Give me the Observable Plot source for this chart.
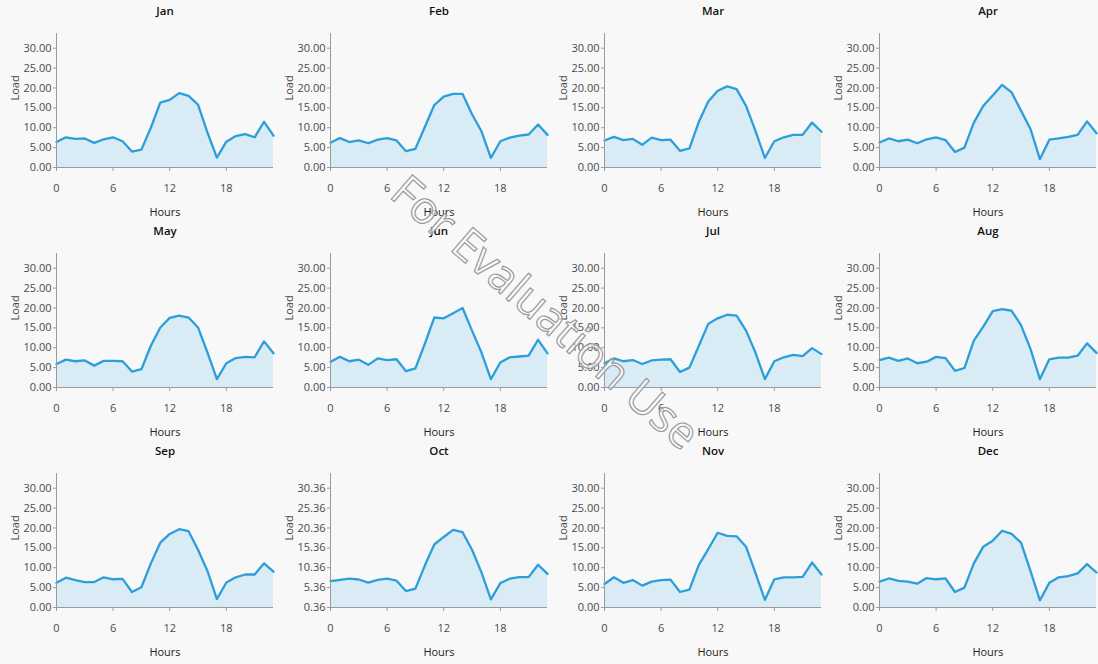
<!DOCTYPE html>
<html>
<head>
<meta charset="utf-8">
<script src="https://cdn.jsdelivr.net/npm/d3@7"></script>
<script src="https://cdn.jsdelivr.net/npm/@observablehq/plot@0.6"></script>
<style>
  html, body { margin: 0; padding: 0; background: #f8f8f8; }
  #wrap { position: relative; width: 1098px; height: 664px; overflow: hidden; font-family: "Open Sans", "Noto Sans", sans-serif; }
  .panel { position: absolute; width: 274px; height: 220px; }
  #wm { position: absolute; left: 0; top: 0; pointer-events: none; }
</style>
</head>
<body>
<div id="wrap"></div>
<script>
// ---- data ----
const months = ["Jan","Feb","Mar","Apr","May","Jun","Jul","Aug","Sep","Oct","Nov","Dec"];
const hours = [0,1,2,3,4,5,6,7,8,9,10,11,12,13,14,15,16,17,18,19,20,21,22,23];
const xTicks = [0, 6, 12, 18];
const yTicks = [0, 5, 10, 15, 20, 25, 30];
const yTicksOct = [0.36, 5.36, 10.36, 15.36, 20.36, 25.36, 30.36];

const jan = [6.4, 7.6, 7.2, 7.3, 6.2, 7.1, 7.6, 6.6, 4.0, 4.5, 10.0, 16.3, 17.0, 18.7, 18.0, 15.8, 8.8, 2.5, 6.5, 7.9, 8.4, 7.6, 11.5, 8.0];
const feb = [6.2, 7.4, 6.4, 6.8, 6.1, 7.0, 7.4, 6.8, 4.1, 4.7, 10.2, 15.7, 17.8, 18.5, 18.5, 13.4, 9.1, 2.4, 6.6, 7.5, 8.0, 8.3, 10.8, 8.2];
const mar = [6.8, 7.7, 6.9, 7.2, 5.7, 7.5, 6.9, 7.0, 4.2, 4.8, 11.5, 16.6, 19.3, 20.4, 19.7, 15.5, 9.2, 2.4, 6.6, 7.6, 8.2, 8.2, 11.3, 9.0];
const apr = [6.3, 7.3, 6.6, 7.0, 6.1, 7.1, 7.6, 6.9, 3.9, 5.0, 11.3, 15.5, 18.1, 20.8, 18.9, 14.3, 9.7, 2.1, 7.0, 7.3, 7.7, 8.2, 11.6, 8.6];
const may = [5.9, 7.0, 6.6, 6.8, 5.5, 6.7, 6.7, 6.6, 4.0, 4.6, 10.5, 15.1, 17.5, 18.1, 17.6, 15.1, 8.8, 2.1, 6.1, 7.4, 7.7, 7.6, 11.6, 8.6];
const jun = [6.5, 7.7, 6.6, 7.0, 5.7, 7.3, 6.9, 7.1, 4.1, 4.8, 11.0, 17.6, 17.4, 18.7, 20.0, 14.3, 8.8, 2.1, 6.3, 7.6, 7.8, 8.0, 12.0, 8.6];
const jul = [6.1, 7.3, 6.6, 6.9, 5.9, 6.8, 7.0, 7.1, 3.9, 5.0, 10.5, 16.0, 17.4, 18.3, 18.1, 14.3, 8.8, 2.1, 6.6, 7.6, 8.2, 7.9, 9.9, 8.4];
const aug = [6.9, 7.5, 6.7, 7.3, 6.1, 6.5, 7.7, 7.4, 4.2, 4.9, 11.8, 15.3, 19.2, 19.7, 19.3, 15.7, 9.7, 2.1, 7.1, 7.5, 7.5, 8.0, 11.1, 8.7];
const sep = [6.2, 7.5, 6.9, 6.4, 6.4, 7.6, 7.1, 7.2, 3.9, 5.1, 11.1, 16.3, 18.5, 19.7, 19.2, 14.5, 9.2, 2.1, 6.3, 7.6, 8.3, 8.3, 11.1, 9.0];
const oct = [7.0, 7.3, 7.6, 7.4, 6.6, 7.3, 7.6, 7.1, 4.5, 5.1, 10.9, 16.2, 18.1, 19.9, 19.3, 14.9, 9.2, 2.4, 6.5, 7.6, 8.0, 8.0, 11.1, 8.8];
const nov = [5.9, 7.6, 6.2, 6.9, 5.5, 6.5, 6.9, 7.0, 3.9, 4.5, 10.7, 14.7, 18.8, 18.0, 17.9, 15.3, 8.7, 1.9, 7.1, 7.6, 7.6, 7.7, 11.3, 8.3];
const dec = [6.5, 7.3, 6.7, 6.5, 6.0, 7.4, 7.1, 7.3, 3.9, 5.0, 11.1, 15.3, 16.8, 19.3, 18.5, 16.3, 9.2, 1.8, 6.2, 7.6, 7.9, 8.6, 10.9, 8.8];

const series = [jan, feb, mar, apr, may, jun, jul, aug, sep, oct, nov, dec];

// ---- drawing ----
const wrap = document.getElementById("wrap");
const lineColor = "#2c9fda";
const fillColor = "#d9ebf5";
const axisColor = "#9a9a9a";
const textColor = "#4a4a4a";

months.forEach((m, i) => {
  const vals = series[i];
  const rows = hours.map((h, k) => ({hour: h, load: vals[k]}));
  const isOct = m === "Oct";
  const ticks = isOct ? yTicksOct : yTicks;
  const ymin = isOct ? 0.36 : 0;
  const chart = Plot.plot({
    width: 274,
    height: 220,
    marginLeft: 56,
    marginRight: 1,
    marginTop: 33,
    marginBottom: 53,
    style: {background: "transparent", fontFamily: "'Open Sans', 'Noto Sans', sans-serif", fontSize: "11px", color: textColor, overflow: "visible"},
    x: {domain: [0, 23]},
    y: {domain: [ymin, ymin + 33.7]},
    marks: [
      Plot.areaY(rows, {x: "hour", y1: ymin, y2: "load", fill: fillColor}),
      Plot.lineY(rows, {x: "hour", y: "load", stroke: lineColor, strokeWidth: 2.3}),
      Plot.ruleX([0], {stroke: axisColor, strokeWidth: 1}),
      Plot.ruleY([ymin], {stroke: axisColor, strokeWidth: 1}),
      Plot.axisY({ticks: ticks, tickFormat: d => d.toFixed(2), tickSize: 3, tickPadding: 2, label: null, stroke: axisColor, fill: textColor}),
      Plot.axisX({ticks: xTicks, tickFormat: d => String(d), tickSize: 4, tickPadding: 13, label: null, stroke: axisColor, fill: textColor}),
      Plot.text(["Load"], {text: d => d, frameAnchor: "left", dx: -41, rotate: -90, fill: textColor, fontSize: 11}),
      Plot.text(["Hours"], {text: d => d, frameAnchor: "bottom", lineAnchor: "middle", dy: 45, fill: "#222", fontSize: 11}),
      Plot.text([m], {text: d => d, frameAnchor: "top", lineAnchor: "middle", dy: -22, fill: "#111", fontSize: 11.5, fontWeight: 600})
    ]
  });
  const div = document.createElement("div");
  div.className = "panel";
  div.style.left = (i % 4) * 274.2 + "px";
  div.style.top = Math.floor(i / 4) * 220 + "px";
  div.appendChild(chart);
  wrap.appendChild(div);
});

// evaluation watermark of the original rendering
const ns = "http://www.w3.org/2000/svg";
const wm = document.createElementNS(ns, "svg");
wm.setAttribute("id", "wm");
wm.setAttribute("width", 1098);
wm.setAttribute("height", 664);
const t = document.createElementNS(ns, "text");
t.setAttribute("transform", "translate(543,315) rotate(41)");
t.setAttribute("text-anchor", "middle");
t.setAttribute("dominant-baseline", "middle");
t.setAttribute("font-family", "'Open Sans', 'Noto Sans', sans-serif");
t.setAttribute("font-size", "45");
t.setAttribute("fill", "#ffffff");
t.setAttribute("fill-opacity", "0.6");
t.setAttribute("stroke", "#9a9a9a");
t.setAttribute("stroke-width", "1.2");
t.textContent = "For Evaluation Use";
wm.appendChild(t);
wrap.appendChild(wm);
</script>
</body>
</html>
